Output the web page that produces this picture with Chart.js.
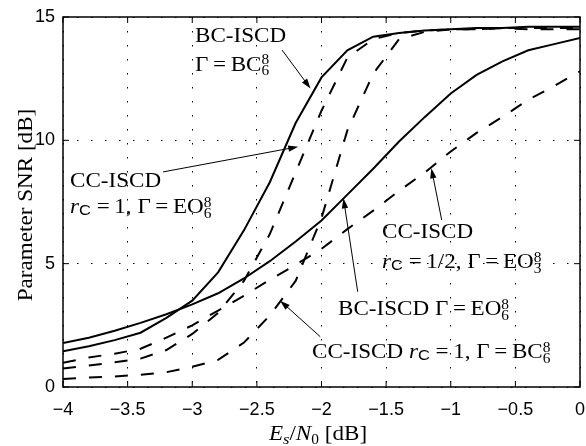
<!DOCTYPE html>
<html>
<head>
<meta charset="utf-8">
<script src="https://cdn.jsdelivr.net/npm/chart.js@4/dist/chart.umd.min.js"></script>
<style>
  body { margin: 0; background: #fff; }
  canvas { display: block; }
</style>
</head>
<body>
<canvas id="snrChart" width="586" height="446"></canvas>
<script>
// Es/N0 in dB
const esN0 = [-4, -3.8, -3.6, -3.4, -3.2, -3, -2.8, -2.6, -2.4, -2.2, -2, -1.8, -1.6, -1.4, -1.2, -1, -0.8, -0.6, -0.4, -0.2, 0];

// parameter SNR [dB]
const bcIscdBC = [1.45, 1.65, 1.9, 2.2, 2.8, 3.5, 4.65, 6.35, 8.3, 10.7, 12.55, 13.65, 14.2, 14.35, 14.45, 14.5, 14.55, 14.55, 14.6, 14.6, 14.6];
const bcIscdEO = [1.78, 2.0, 2.28, 2.6, 2.95, 3.35, 3.8, 4.4, 5.1, 5.9, 6.75, 7.8, 8.85, 9.95, 10.95, 11.9, 12.65, 13.2, 13.65, 13.9, 14.15];
const ccIscdR1EO = [0.75, 0.87, 1.0, 1.15, 1.5, 2.15, 3.0, 4.3, 6.2, 8.7, 11.2, 13.35, 14.1, 14.35, 14.45, 14.5, 14.5, 14.55, 14.55, 14.55, 14.55];
const ccIscdR12EO = [0.98, 1.2, 1.35, 1.55, 2.0, 2.5, 3.1, 3.7, 4.35, 4.95, 5.6, 6.4, 7.15, 7.95, 8.7, 9.55, 10.3, 10.95, 11.65, 12.2, 12.8];
const ccIscdR1BC = [0.32, 0.38, 0.43, 0.5, 0.6, 0.82, 1.1, 1.8, 2.9, 4.3, 6.85, 10.4, 12.7, 14.1, 14.4, 14.5, 14.5, 14.55, 14.5, 14.5, 14.5];

const xTicks = [-4, -3.5, -3, -2.5, -2, -1.5, -1, -0.5, 0];
const yTicks = [0, 5, 10, 15];

const SERIF = '"Liberation Serif", "Times New Roman", serif';
const SANS = '"Liberation Sans", Arial, sans-serif';
const rm = '21px ' + SERIF;
const it = 'italic 21px ' + SERIF;
const sm = '14px ' + SERIF;
const itSm = 'italic 15px ' + SERIF;
const SX = 1.1; // stretch text along the baseline
const T = '\u2009';

function pts(arr) {
    return esN0.map((x, i) => ({ x: x, y: arr[i] }));
}

function ds(label, arr, dashed) {
    return {
        label: label,
        data: pts(arr),
        borderColor: '#000',
        borderWidth: 2,
        borderDash: dashed ? [13, 13] : [],
        pointRadius: 0,
        tension: 0,
        fill: false
    };
}

// rich text: parts = [{t, f, dy}] or {sup, sub} stacked, or {subC}
function richWidth(ctx, parts) {
    let w = 0;
    parts.forEach(p => {
        if (p.sup !== undefined) {
            ctx.font = sm;
            w += Math.max(ctx.measureText(p.sup).width, ctx.measureText(p.sub).width);
        } else if (p.subC) {
            ctx.font = '15px ' + SANS;
            w += ctx.measureText('C').width + 1;
        } else {
            ctx.font = p.f || rm;
            w += ctx.measureText(p.t).width;
        }
    });
    return w;
}

function drawRich(ctx, x, y, parts, center) {
    ctx.save();
    ctx.translate(x, y);
    ctx.scale(SX, 1);
    ctx.fillStyle = '#000';
    ctx.textBaseline = 'alphabetic';
    ctx.textAlign = 'left';
    let cx = center ? -richWidth(ctx, parts) / 2 : 0;
    parts.forEach(p => {
        if (p.sup !== undefined) {
            ctx.font = sm;
            ctx.fillText(p.sup, cx, -6.5);
            ctx.fillText(p.sub, cx, 4.5);
            cx += Math.max(ctx.measureText(p.sup).width, ctx.measureText(p.sub).width);
        } else if (p.subC) {
            ctx.font = '15px ' + SANS;
            ctx.fillText('C', cx, 2);
            cx += ctx.measureText('C').width + 1;
        } else {
            ctx.font = p.f || rm;
            ctx.fillText(p.t, cx, p.dy || 0);
            cx += ctx.measureText(p.t).width;
        }
    });
    ctx.restore();
}

function arrow(ctx, x1, y1, x2, y2) {
    const ang = Math.atan2(y2 - y1, x2 - x1);
    const len = 10, half = 3.2;
    ctx.beginPath();
    ctx.moveTo(x1, y1);
    ctx.lineTo(x2 - Math.cos(ang) * len * 0.8, y2 - Math.sin(ang) * len * 0.8);
    ctx.stroke();
    ctx.beginPath();
    ctx.moveTo(x2, y2);
    ctx.lineTo(x2 - Math.cos(ang) * len - Math.sin(ang) * half, y2 - Math.sin(ang) * len + Math.cos(ang) * half);
    ctx.lineTo(x2 - Math.cos(ang) * len + Math.sin(ang) * half, y2 - Math.sin(ang) * len - Math.cos(ang) * half);
    ctx.closePath();
    ctx.fill();
}

// Рамка, засечки внутрь, подписи осей и аннотации
const decorPlugin = {
    id: 'decor',
    afterDraw(chart) {
        const { ctx, chartArea: a, scales } = chart;
        const xs = scales.x, ys = scales.y;
        const px = v => xs.getPixelForValue(v);
        const py = v => ys.getPixelForValue(v);
        ctx.save();
        ctx.setLineDash([]);
        ctx.strokeStyle = '#000';
        ctx.fillStyle = '#000';

        // inward ticks
        ctx.lineWidth = 1;
        ctx.beginPath();
        xTicks.forEach(v => {
            const p = px(v);
            ctx.moveTo(p, a.bottom); ctx.lineTo(p, a.bottom - 6);
            ctx.moveTo(p, a.top); ctx.lineTo(p, a.top + 6);
        });
        yTicks.forEach(v => {
            const p = py(v);
            ctx.moveTo(a.left, p); ctx.lineTo(a.left + 6, p);
            ctx.moveTo(a.right, p); ctx.lineTo(a.right - 6, p);
        });
        ctx.stroke();

        // box
        ctx.lineWidth = 1.5;
        ctx.strokeRect(a.left, a.top, a.right - a.left, a.bottom - a.top);

        // axis titles
        drawRich(ctx, 318, 440, [
            { t: 'E', f: it }, { t: 's', f: itSm, dy: 4 }, { t: '/' },
            { t: 'N', f: it }, { t: '0', f: sm, dy: 4 }, { t: ' [dB]' }
        ], true);
        ctx.save();
        ctx.translate(32, 205);
        ctx.rotate(-Math.PI / 2);
        drawRich(ctx, 0, 0, [{ t: 'Parameter SNR [dB]' }], true);
        ctx.restore();

        // annotations
        ctx.lineWidth = 1;
        drawRich(ctx, 195, 42, [{ t: 'BC-ISCD' }]);
        drawRich(ctx, 195, 70.5, [{ t: 'Γ' + T + '=' + T + 'BC' }, { sup: '8', sub: '6' }]);
        arrow(ctx, px(-2.305), py(13.66), px(-2.085), py(12.1));

        drawRich(ctx, 70, 186.5, [{ t: 'CC-ISCD' }]);
        drawRich(ctx, 70, 213, [{ t: 'r', f: it }, { subC: true }, { t: T + '=' + T + '1, Γ' + T + '=' + T + 'EO' }, { sup: '8', sub: '6' }]);
        arrow(ctx, px(-3.226), py(8.72), px(-2.18), py(9.74));

        drawRich(ctx, 382, 238, [{ t: 'CC-ISCD' }]);
        drawRich(ctx, 382, 268, [{ t: 'r', f: it }, { subC: true }, { t: T + '=' + T + '1/2, Γ' + T + '=' + T + 'EO' }, { sup: '8', sub: '3' }]);
        arrow(ctx, px(-1.07), py(6.77), px(-1.15), py(8.87));

        drawRich(ctx, 338, 315, [{ t: 'BC-ISCD Γ' + T + '=' + T + 'EO' }, { sup: '8', sub: '6' }]);
        arrow(ctx, px(-1.72), py(3.86), px(-1.83), py(7.65));

        drawRich(ctx, 312, 358, [{ t: 'CC-ISCD ' }, { t: 'r', f: it }, { subC: true }, { t: T + '=' + T + '1, Γ' + T + '=' + T + 'BC' }, { sup: '8', sub: '6' }]);
        arrow(ctx, px(-2.01), py(2.04), px(-2.32), py(3.5));

        ctx.restore();
    }
};

const fmt = v => (v < 0 ? '\u2212' + Math.abs(v) : String(v));

const ctx = document.getElementById('snrChart').getContext('2d');
const snrChart = new Chart(ctx, {
    type: 'line',
    data: {
        datasets: [
            ds('BC-ISCD BC', bcIscdBC, false),
            ds('BC-ISCD EO', bcIscdEO, false),
            ds('CC-ISCD r=1 EO', ccIscdR1EO, true),
            ds('CC-ISCD r=1/2 EO', ccIscdR12EO, true),
            ds('CC-ISCD r=1 BC', ccIscdR1BC, true)
        ]
    },
    options: {
        responsive: false,
        animation: false,
        devicePixelRatio: 1,
        layout: { padding: { left: 0, right: 6, top: 17, bottom: 0 } },
        plugins: { legend: { display: false }, tooltip: { enabled: false } },
        scales: {
            x: {
                type: 'linear',
                min: -4,
                max: 0,
                afterFit: s => { s.height = 59; s.paddingLeft = 0; s.paddingRight = 0; },
                afterBuildTicks: s => { s.ticks = xTicks.map(v => ({ value: v })); },
                ticks: {
                    callback: fmt,
                    color: '#000',
                    font: { family: SANS, size: 18 },
                    padding: 12,
                    maxRotation: 0,
                    autoSkip: false
                },
                grid: { color: '#000', lineWidth: 1, drawTicks: false },
                border: { display: false, dash: [1.5, 12.5] }
            },
            y: {
                type: 'linear',
                min: 0,
                max: 15,
                afterFit: s => { s.width = 63; s.paddingTop = 0; s.paddingBottom = 0; },
                afterBuildTicks: s => { s.ticks = yTicks.map(v => ({ value: v })); },
                ticks: {
                    callback: fmt,
                    color: '#000',
                    font: { family: SANS, size: 18 },
                    padding: 8
                },
                grid: { color: '#000', lineWidth: 1, drawTicks: false },
                border: { display: false, dash: [1.5, 12.5] }
            }
        }
    },
    plugins: [decorPlugin]
});
</script>
</body>
</html>
